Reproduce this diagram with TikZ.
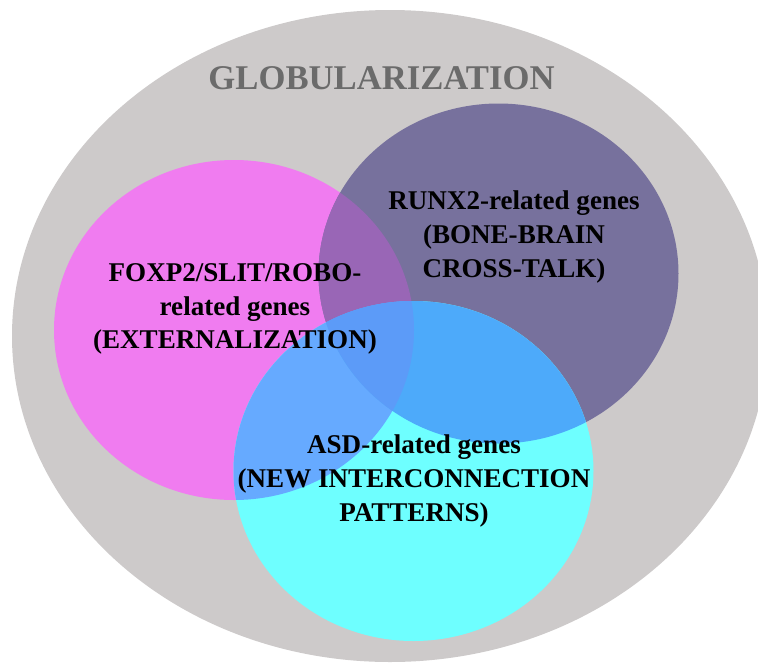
\documentclass[tikz,border=0pt]{standalone}
\usepackage{fontspec}
\setmainfont{Liberation Serif}

\definecolor{globgray}{RGB}{205,202,202}
\definecolor{titlegray}{RGB}{107,107,107}
\definecolor{foxpcol}{RGB}{240,124,240}
\definecolor{runxcol}{RGB}{119,113,157}
\definecolor{asdcol}{RGB}{110,255,255}
\definecolor{foxrunx}{RGB}{153,102,182}
\definecolor{foxasd}{RGB}{102,170,255}
\definecolor{runxasd}{RGB}{77,170,250}
\definecolor{allthree}{RGB}{92,155,248}

\tikzset{every picture/.style={line width=0.75pt}}

\begin{document}
\begin{tikzpicture}[x=0.75pt,y=0.75pt,yscale=-1,xscale=1,
    genes/.style={font=\bfseries\fontsize{20.3}{25.3}\selectfont, align=center, text=black},
    title/.style={font=\bfseries\fontsize{26}{30}\selectfont, text=titlegray}]
    \useasboundingbox (0,0) rectangle (758,662);

    \coordinate (glob) at (390,336);
    \coordinate (foxp) at (234,330);
    \coordinate (runx) at (498.5,273.5);
    \coordinate (asd) at (413.5,471);

    % outer set and the three gene sets
    \fill[globgray] (glob) ellipse (378 and 326);
    \fill[foxpcol] (foxp) ellipse (180 and 170);
    \fill[runxcol] (runx) ellipse (180 and 170);
    \fill[asdcol] (asd) ellipse (180 and 170);

    % overlaps
    \begin{scope}
        \clip (foxp) ellipse (180 and 170);
        \fill[foxrunx] (runx) ellipse (180 and 170);
        \fill[foxasd] (asd) ellipse (180 and 170);
    \end{scope}
    \begin{scope}
        \clip (runx) ellipse (180 and 170);
        \fill[runxasd] (asd) ellipse (180 and 170);
    \end{scope}
    \begin{scope}
        \clip (foxp) ellipse (180 and 170);
        \clip (runx) ellipse (180 and 170);
        \fill[allthree] (asd) ellipse (180 and 170);
    \end{scope}

    \node[title] (globlabel) at (381.5,78) {GLOBULARIZATION};
    \node[genes] (foxplabel) at (235,309) {FOXP2/SLIT/ROBO-\\related genes\\(EXTERNALIZATION)};
    \node[genes] (runxlabel) at (514,237) {RUNX2-related genes\\(BONE-BRAIN\\CROSS-TALK)};
    \node[genes] (asdlabel) at (414,481) {ASD-related genes\\(NEW INTERCONNECTION\\PATTERNS)};
\end{tikzpicture}
\end{document}
